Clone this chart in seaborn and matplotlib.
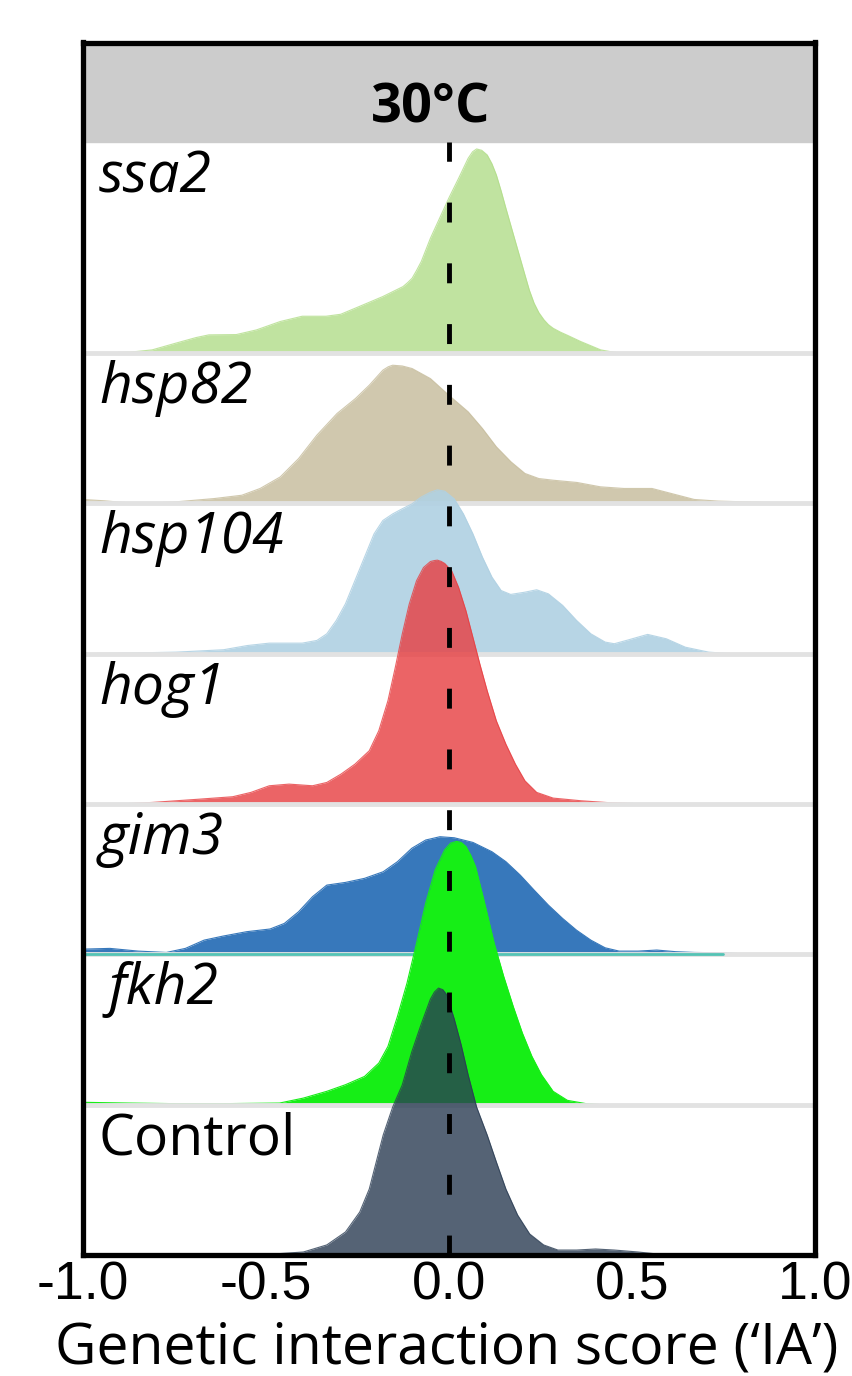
import numpy as np
import pandas as pd
import matplotlib
matplotlib.use("Agg")
import matplotlib.pyplot as plt
import seaborn as sns

# ridge values: x = interaction score, h = density height (in row units)
genes = ["ssa2", "hsp82", "hsp104", "hog1", "gim3", "fkh2", "Control"]

ssa2_x = [-1.0, -0.95, -0.87, -0.81, -0.745, -0.69, -0.655, -0.58, -0.525, -0.46, -0.4, -0.335, -0.295,
          -0.245, -0.18, -0.125, -0.112, -0.1, -0.088, -0.075, -0.05, -0.025, 0.0, 0.027, 0.053,
          0.065, 0.076, 0.09, 0.105, 0.118, 0.13, 0.143, 0.156, 0.182, 0.208, 0.22, 0.233, 0.246,
          0.26, 0.272, 0.285, 0.305, 0.325, 0.36, 0.415, 0.465, 1.0]
ssa2_h = [0.0, 0.0, 0.007, 0.022, 0.067, 0.104, 0.122, 0.124, 0.155, 0.211, 0.246, 0.246, 0.259,
          0.31, 0.377, 0.443, 0.47, 0.499, 0.55, 0.61, 0.765, 0.898, 1.031, 1.164, 1.297,
          1.34, 1.359, 1.35, 1.319, 1.26, 1.186, 1.08, 0.965, 0.743, 0.521, 0.42, 0.333, 0.27,
          0.222, 0.19, 0.166, 0.14, 0.118, 0.078, 0.022, 0.0, 0.0]

hsp82_x = [-1.0, -0.94, -0.875, -0.81, -0.745, -0.64, -0.565, -0.515, -0.46, -0.41, -0.36, -0.305,
           -0.255, -0.217, -0.18, -0.165, -0.153, -0.127, -0.1, -0.05, 0.0, 0.053, 0.092, 0.13,
           0.17, 0.208, 0.246, 0.285, 0.35, 0.414, 0.478, 0.555, 0.607, 0.67, 0.735, 0.865,
           0.967, 1.0]
hsp82_h = [0.027, 0.018, 0.004, 0.002, 0.011, 0.033, 0.055, 0.1, 0.177, 0.299, 0.455, 0.599,
           0.698, 0.787, 0.887, 0.91, 0.92, 0.915, 0.898, 0.831, 0.721, 0.61, 0.499, 0.377,
           0.277, 0.2, 0.166, 0.155, 0.14, 0.111, 0.1, 0.1, 0.067, 0.027, 0.016, 0.007,
           0.0, 0.0]

hsp104_x = [-1.0, -0.9, -0.745, -0.615, -0.55, -0.49, -0.4, -0.36, -0.333, -0.307, -0.282, -0.256,
            -0.23, -0.204, -0.18, -0.153, -0.127, -0.1, -0.076, -0.05, -0.031, -0.011, 0.015, 0.04,
            0.066, 0.092, 0.118, 0.143, 0.169, 0.208, 0.24, 0.272, 0.311, 0.349, 0.388, 0.427,
            0.452, 0.491, 0.543, 0.594, 0.646, 0.71, 0.775, 1.0]
hsp104_h = [0.0, 0.004, 0.011, 0.027, 0.055, 0.071, 0.071, 0.089, 0.133, 0.222, 0.333, 0.488,
            0.643, 0.798, 0.887, 0.931, 0.965, 0.998, 1.042, 1.075, 1.091, 1.082, 1.031, 0.931,
            0.798, 0.643, 0.51, 0.421, 0.395, 0.41, 0.426, 0.399, 0.322, 0.222, 0.133, 0.078,
            0.067, 0.093, 0.129, 0.1, 0.044, 0.011, 0.0, 0.0]

hog1_x = [-1.0, -0.9, -0.81, -0.68, -0.59, -0.54, -0.49, -0.436, -0.372, -0.333, -0.294, -0.256,
          -0.217, -0.191, -0.166, -0.146, -0.127, -0.108, -0.088, -0.069, -0.05, -0.04, -0.031,
          -0.021, -0.011, 0.008, 0.027, 0.047, 0.066, 0.085, 0.105, 0.13, 0.156, 0.182, 0.208,
          0.24, 0.285, 0.362, 0.44, 0.543, 1.0]
hog1_h = [0.0, 0.0, 0.011, 0.033, 0.049, 0.078, 0.122, 0.133, 0.122, 0.144, 0.2, 0.266,
          0.355, 0.488, 0.688, 0.909, 1.131, 1.33, 1.486, 1.574, 1.614, 1.62, 1.623,
          1.615, 1.601, 1.552, 1.441, 1.286, 1.109, 0.931, 0.754, 0.554, 0.399, 0.266, 0.155,
          0.078, 0.04, 0.022, 0.009, 0.0, 0.0]

gim3_x = [-1.0, -0.925, -0.848, -0.771, -0.719, -0.668, -0.616, -0.552, -0.488, -0.449, -0.41,
          -0.372, -0.333, -0.282, -0.23, -0.179, -0.14, -0.101, -0.063, -0.024, 0.015, 0.066,
          0.118, 0.156, 0.195, 0.233, 0.272, 0.311, 0.349, 0.388, 0.427, 0.465, 0.517, 0.568,
          0.62, 0.671, 0.736, 0.8, 0.864, 1.0]
gim3_h = [0.035, 0.04, 0.022, 0.013, 0.04, 0.095, 0.122, 0.151, 0.169, 0.206, 0.284,
          0.384, 0.461, 0.479, 0.506, 0.55, 0.617, 0.706, 0.761, 0.783, 0.776, 0.745,
          0.683, 0.617, 0.528, 0.428, 0.328, 0.239, 0.161, 0.095, 0.044, 0.022, 0.022, 0.029,
          0.018, 0.013, 0.011, 0.004, 0.0, 0.0]

fkh2_x = [-1.0, -0.874, -0.745, -0.616, -0.462, -0.397, -0.333, -0.282, -0.23, -0.191, -0.166,
          -0.14, -0.114, -0.088, -0.063, -0.037, -0.011, 0.005, 0.021, 0.034, 0.047, 0.06, 0.073,
          0.098, 0.124, 0.15, 0.176, 0.201, 0.227, 0.253, 0.285, 0.324, 0.375, 0.414, 1.0]
fkh2_h = [0.016, 0.011, 0.007, 0.007, 0.011, 0.044, 0.089, 0.133, 0.188, 0.277, 0.388,
          0.588, 0.809, 1.075, 1.341, 1.563, 1.696, 1.74, 1.752, 1.745, 1.718, 1.66, 1.585,
          1.341, 1.075, 0.854, 0.654, 0.477, 0.322, 0.2, 0.089, 0.029, 0.007, 0.0, 0.0]

control_x = [-1.0, -0.616, -0.488, -0.397, -0.333, -0.282, -0.243, -0.217, -0.198, -0.179, -0.153,
             -0.127, -0.101, -0.076, -0.05, -0.039, -0.028, -0.016, -0.005, 0.015, 0.034, 0.053,
             0.076, 0.105, 0.13, 0.156, 0.188, 0.221, 0.259, 0.298, 0.349, 0.401, 0.452, 0.517,
             0.568, 0.62, 1.0]
control_h = [0.0, 0.0, 0.005, 0.02, 0.067, 0.153, 0.286, 0.439, 0.619, 0.798, 0.985,
             1.131, 1.351, 1.53, 1.703, 1.75, 1.776, 1.765, 1.73, 1.57, 1.397, 1.198,
             0.985, 0.798, 0.619, 0.439, 0.266, 0.14, 0.067, 0.033, 0.033, 0.04, 0.033, 0.02,
             0.007, 0.0, 0.0]

xs = [ssa2_x, hsp82_x, hsp104_x, hog1_x, gim3_x, fkh2_x, control_x]
hs = [ssa2_h, hsp82_h, hsp104_h, hog1_h, gim3_h, fkh2_h, control_h]

colors = ["#b1dd88", "#c5bb9a", "#b0d1e3", "#e73d40", "#3778bb", "#16ee16", "#2a3c53"]
alphas = [0.8, 0.8, 0.9, 0.8, 1.0, 1.0, 0.8]

tick_vals = [-1.0, -0.5, 0.0, 0.5, 1.0]
tick_text = ["-1.0", "-0.5", "0.0", "0.5", "1.0"]

rows = []
for g, x, h in zip(genes, xs, hs):
    for xi, hi in zip(x, h):
        rows.append((g, xi, hi))
df = pd.DataFrame(rows, columns=["gene", "score", "density"])

sns.set_theme(style="white")
plt.rcParams["axes.unicode_minus"] = False
plt.rcParams["text.color"] = "black"
plt.rcParams["xtick.color"] = "black"

W, H = 852, 1376
fig = plt.figure(figsize=(W / 100, H / 100), dpi=100)
left, right, top, bottom = 82.5, 815, 42.5, 1255
ax = fig.add_axes([left / W, (H - bottom) / H, (right - left) / W, (bottom - top) / H])

row_px = 150.3
n = len(genes)
data_top = (bottom - 142.5) / row_px
ax.set_xlim(-1, 1)
ax.set_ylim(0, (bottom - top) / row_px)

# header strip
ax.axhspan(data_top, ax.get_ylim()[1], color="#cccccc", zorder=0)

for i, g in enumerate(genes):
    base = n - 1 - i
    sub = df[df["gene"] == g]
    z = 2 + i * 2
    # pale baseline separator
    ax.axhline(base, color="#e2e2e2", lw=3.5, zorder=z + 0.5)
    ax.fill_between(sub["score"], base, base + sub["density"], color=colors[i],
                    alpha=alphas[i], lw=0, zorder=z)
    sns.lineplot(x=sub["score"], y=base + sub["density"], color=colors[i], alpha=alphas[i],
                 lw=0.8, ax=ax, zorder=z, estimator=None, sort=False)
    top_band = data_top if i == 0 else base + 1
    lx = -0.93 if g == "fkh2" else -0.955
    ax.text(lx, top_band - 50 / row_px, g, fontsize=41, family="Open Sans",
            style="normal" if g == "Control" else "italic", ha="left", va="baseline",
            color="black", zorder=30)

# odd teal streak at the gim3 baseline
ax.plot([-1, 0.75], [2, 2], color="#45c0b0", lw=2, alpha=0.9, zorder=11)

ax.plot([0, 0], [0, data_top], color="black", lw=3.5, dashes=(4.1, 8.4), zorder=40,
        solid_capstyle="butt", dash_capstyle="butt")

ax.text(-0.05, (bottom - 123) / row_px, "30°C", fontsize=39, family="Open Sans",
        weight="bold", ha="center", va="baseline", color="black", zorder=30)

ax.set_xticks(tick_vals)
ax.set_xticklabels(tick_text, fontsize=38.5, family="Liberation Sans", color="black")
ax.set_yticks([])
ax.set_xlabel("")
ax.set_ylabel("")
ax.tick_params(axis="x", length=0, pad=4)
for s in ax.spines.values():
    s.set_visible(True)
    s.set_color("black")
    s.set_linewidth(3.8)
    s.set_zorder(50)

fig.text(447 / W, (H - 1364) / H, "Genetic interaction score (\u2018IA\u2019)", fontsize=41,
         family="Open Sans", ha="center", va="baseline", color="black")

fig.savefig("out.png", dpi=100)
